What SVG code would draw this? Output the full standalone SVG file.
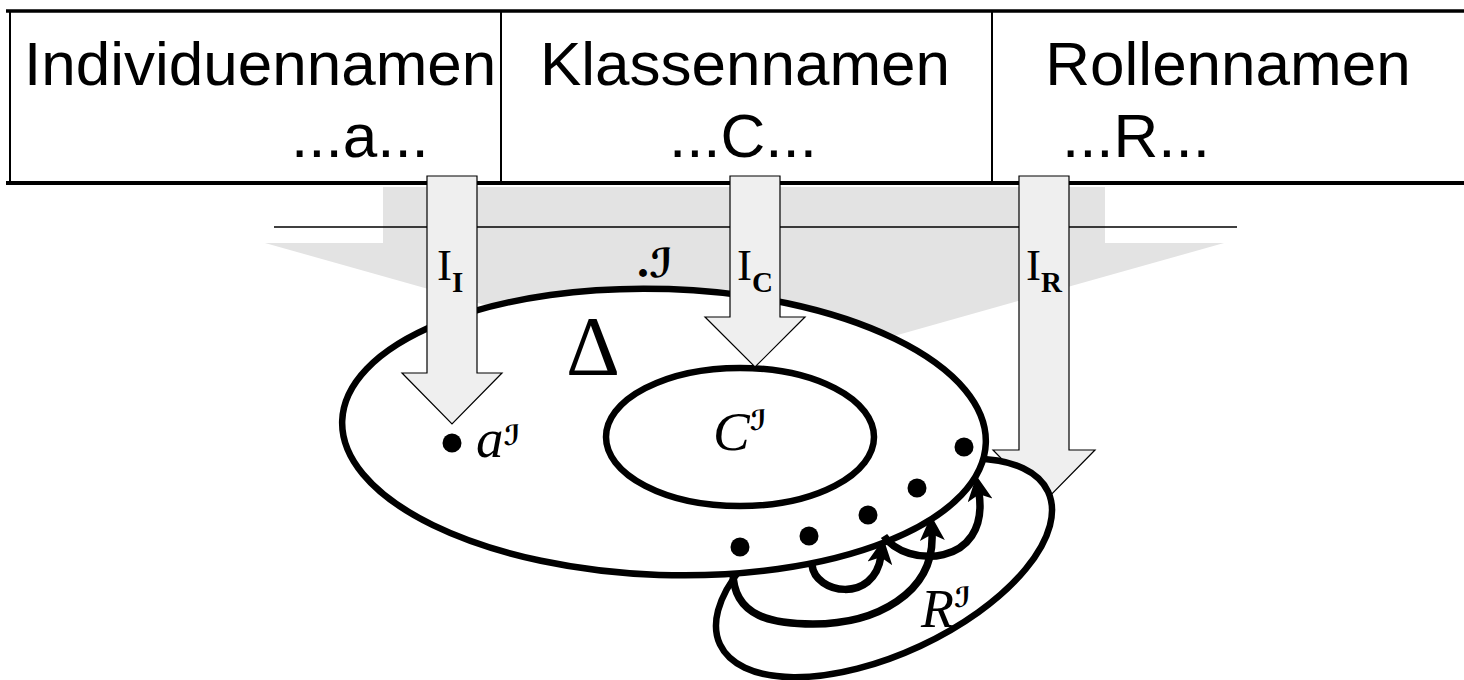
<svg xmlns="http://www.w3.org/2000/svg" width="1464" height="680" viewBox="0 0 1464 680">
<defs>
<style>
.hdr{font-family:"Liberation Sans",Arial,sans-serif;font-size:62px;fill:#000}
.ser{font-family:"Liberation Serif","Times New Roman",serif;fill:#000}
.scr{font-family:"DejaVu Sans","DejaVu Serif",sans-serif;font-weight:bold;fill:#000}
.blk{fill:#efefef;stroke:#000;stroke-width:1.2}
.set{fill:#fff;stroke:#000;stroke-width:6.5}
.dot{fill:#000}
.rel{fill:none;stroke:#000;stroke-width:7.5;marker-end:url(#head)}
</style>
<marker id="head" viewBox="0 0 10 10" refX="3" refY="5" markerWidth="27" markerHeight="25" orient="auto" markerUnits="userSpaceOnUse">
<path d="M0,0 L10,5 L0,10 L2.5,5 z" fill="#000"/>
</marker>
</defs>
<rect width="1464" height="680" fill="#fff"/>

<g id="projection">
<polygon points="383,187 1105,187 1105,243 1224,243 745,378 265,243 383,243" fill="#e3e3e3"/>
<line x1="274" y1="227" x2="1237" y2="227" stroke="#000" stroke-width="1.5"/>
</g>

<g id="vocabulary">
<line x1="6" y1="11" x2="1464" y2="11" stroke="#000" stroke-width="3.5"/>
<line x1="6" y1="183" x2="1464" y2="183" stroke="#000" stroke-width="4"/>
<line x1="10" y1="11" x2="10" y2="183" stroke="#000" stroke-width="2"/>
<line x1="501" y1="11" x2="501" y2="183" stroke="#000" stroke-width="2"/>
<line x1="992" y1="11" x2="992" y2="183" stroke="#000" stroke-width="2"/>
<text class="hdr" x="24" y="85">Individuennamen</text>
<text class="hdr" x="291" y="157">...a...</text>
<text class="hdr" x="745" y="85" text-anchor="middle">Klassennamen</text>
<text class="hdr" x="743" y="157" text-anchor="middle">...C...</text>
<text class="hdr" x="1228" y="85" text-anchor="middle">Rollennamen</text>
<text class="hdr" x="1136" y="157" text-anchor="middle">...R...</text>
</g>

<g id="map-IR">
<path class="blk" d="M1019,176 L1069,176 L1069,450 L1095,450 L1044,502 L993,450 L1019,450 Z"/>
<text class="ser" x="1026" y="280" font-size="45">I<tspan font-size="29" font-weight="bold" dy="12">R</tspan></text>
</g>

<g id="R-extension">
<ellipse class="set" cx="884" cy="568" rx="181" ry="86" transform="rotate(-25 884 568)"/>
<text class="ser" x="921" y="627" font-size="54" font-style="italic">R<tspan class="scr" font-size="28" font-style="normal" dy="-20">ℐ</tspan></text>
</g>

<g id="domain">
<ellipse class="set" cx="664" cy="432" rx="322" ry="143" transform="rotate(2 664 432)"/>
<text class="ser" x="593" y="375" font-size="84" text-anchor="middle">Δ</text>
</g>

<g id="C-extension">
<ellipse class="set" cx="740" cy="437" rx="134" ry="69"/>
<text class="ser" x="713" y="450" font-size="55" font-style="italic">C<tspan class="scr" font-size="28" font-style="normal" dy="-20">ℐ</tspan></text>
</g>

<g id="interpretation-label">
<text class="ser" x="637" y="277" font-size="48"><tspan font-weight="bold">.</tspan><tspan class="scr" font-size="40">ℐ</tspan></text>
</g>

<g id="map-II">
<path class="blk" d="M427,176 L477,176 L477,373 L502,373 L452,424 L402,373 L427,373 Z"/>
<text class="ser" x="437" y="280" font-size="45">I<tspan font-size="29" font-weight="bold" dy="12">I</tspan></text>
</g>

<g id="map-IC">
<path class="blk" d="M730,176 L780,176 L780,317 L805,317 L755,367 L705,317 L730,317 Z"/>
<text class="ser" x="737" y="280" font-size="45">I<tspan font-size="29" font-weight="bold" dy="12">C</tspan></text>
</g>

<g id="individual-a">
<circle class="dot" cx="452" cy="443" r="9.5"/>
<text class="ser" x="476" y="457" font-size="55" font-style="italic">a<tspan class="scr" font-size="28" font-style="normal" dy="-12">ℐ</tspan></text>
</g>

<g id="elements">
<circle class="dot" cx="740" cy="547" r="9.5"/>
<circle class="dot" cx="809" cy="536" r="9.5"/>
<circle class="dot" cx="868" cy="515" r="9.5"/>
<circle class="dot" cx="917" cy="488" r="9.5"/>
<circle class="dot" cx="964" cy="447" r="9.5"/>
</g>

<g id="connectors">
<path class="rel" d="M733,572 C733,618 775,624 813,624 C875,624 935,594 932,533"/>
<path class="rel" d="M812,565 C815,594 874,604 881,556"/>
<path class="rel" d="M884,536 C905,568 990,568 979,493"/>
</g>
</svg>
